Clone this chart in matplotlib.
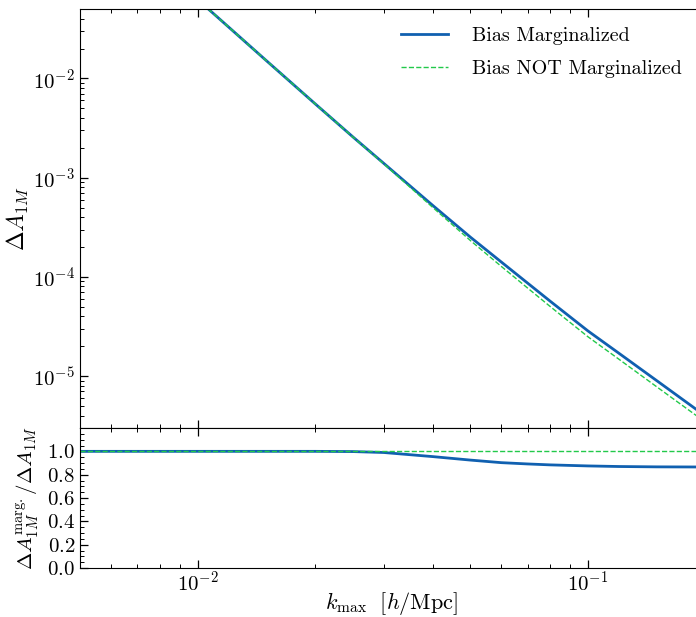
import matplotlib
matplotlib.use("Agg")
import matplotlib.pyplot as plt
from matplotlib.ticker import AutoMinorLocator, FixedLocator
import numpy as np

# values
k_max = [0.005, 0.007, 0.01, 0.0125, 0.015, 0.02, 0.025, 0.03, 0.04, 0.05,
         0.06, 0.07, 0.08, 0.1, 0.12, 0.15, 0.19, 0.2]
dA_marg = [0.70, 0.218, 6.24e-2, 2.86e-2, 1.51e-2, 5.55e-3, 2.57e-3, 1.39e-3,
           5.26e-4, 2.51e-4, 1.41e-4, 8.67e-5, 5.69e-5, 2.85e-5, 1.70e-5,
           9.0e-6, 4.58e-6, 3.96e-6]
dA_fixed = [0.70, 0.218, 6.24e-2, 2.86e-2, 1.51e-2, 5.55e-3, 2.565e-3, 1.376e-3,
            5.02e-4, 2.32e-4, 1.273e-4, 7.73e-5, 5.03e-5, 2.49e-5, 1.48e-5,
            7.80e-6, 3.97e-6, 3.43e-6]
ratio_marg = [1.0, 1.0, 1.0, 1.0, 1.0, 1.0, 0.998, 0.99, 0.955, 0.925,
              0.903, 0.892, 0.884, 0.875, 0.870, 0.867, 0.866, 0.866]
ratio_fixed = [1.0] * len(k_max)

labels = ["Bias Marginalized", "Bias NOT Marginalized"]
BLUE = "#1060b0"
GREEN = "#22c94a"

plt.rcParams["font.family"] = "serif"
plt.rcParams["font.serif"] = ["cmr10", "DejaVu Serif"]
plt.rcParams["mathtext.fontset"] = "cm"
plt.rcParams["axes.formatter.use_mathtext"] = True
plt.rcParams["font.size"] = 15

fig = plt.figure(figsize=(6.96, 6.17), dpi=100)
# axes run slightly past the right edge, as in the cropped reference
ax1 = fig.add_axes([0.115, 0.3063, 0.895, 0.6791])
ax2 = fig.add_axes([0.115, 0.0794, 0.895, 0.2269], sharex=ax1)

ax1.loglog(k_max, dA_marg, color=BLUE, lw=2, label=labels[0])
ax1.loglog(k_max, dA_fixed, color=GREEN, lw=1, ls="--", label=labels[1])
ax1.set_xlim(0.005, 0.197)
ax1.set_ylim(3e-6, 0.05)
ax1.set_ylabel(r"$\Delta A_{1M}$", fontsize=17)
ax1.yaxis.set_label_coords(-0.078, 0.5)
ax1.legend(loc="upper right", frameon=False, fontsize=14.5, handlelength=2.3,
           handletextpad=1.2, labelspacing=0.75, borderaxespad=0.5,
           bbox_to_anchor=(0.995, 1.0))
plt.setp(ax1.get_xticklabels(), visible=False)

ax2.semilogx(k_max, ratio_marg, color=BLUE, lw=2)
ax2.semilogx(k_max, ratio_fixed, color=GREEN, lw=1, ls="--")
ax2.set_ylim(0, 1.2)
ax2.yaxis.set_major_locator(FixedLocator([0.0, 0.2, 0.4, 0.6, 0.8, 1.0]))
ax2.yaxis.set_minor_locator(AutoMinorLocator(4))
ax2.set_ylabel(r"$\Delta A_{1M}^{\rm marg.}/\Delta A_{1M}$", fontsize=15)
ax2.yaxis.set_label_coords(-0.062, 0.5)
ax2.set_xlabel(r"$k_{\rm max}\ \ [h/{\rm Mpc}]$", fontsize=16)
ax2.xaxis.set_label_coords(0.5, -0.155)

for ax in (ax1, ax2):
    ax.tick_params(which="both", direction="in", top=True, right=False)
    ax.tick_params(which="major", length=6, width=0.9, labelsize=15)
    ax.tick_params(which="minor", length=3, width=0.7)
ax2.tick_params(axis="x", which="both", pad=2)

fig.savefig("out.png", dpi=100)
